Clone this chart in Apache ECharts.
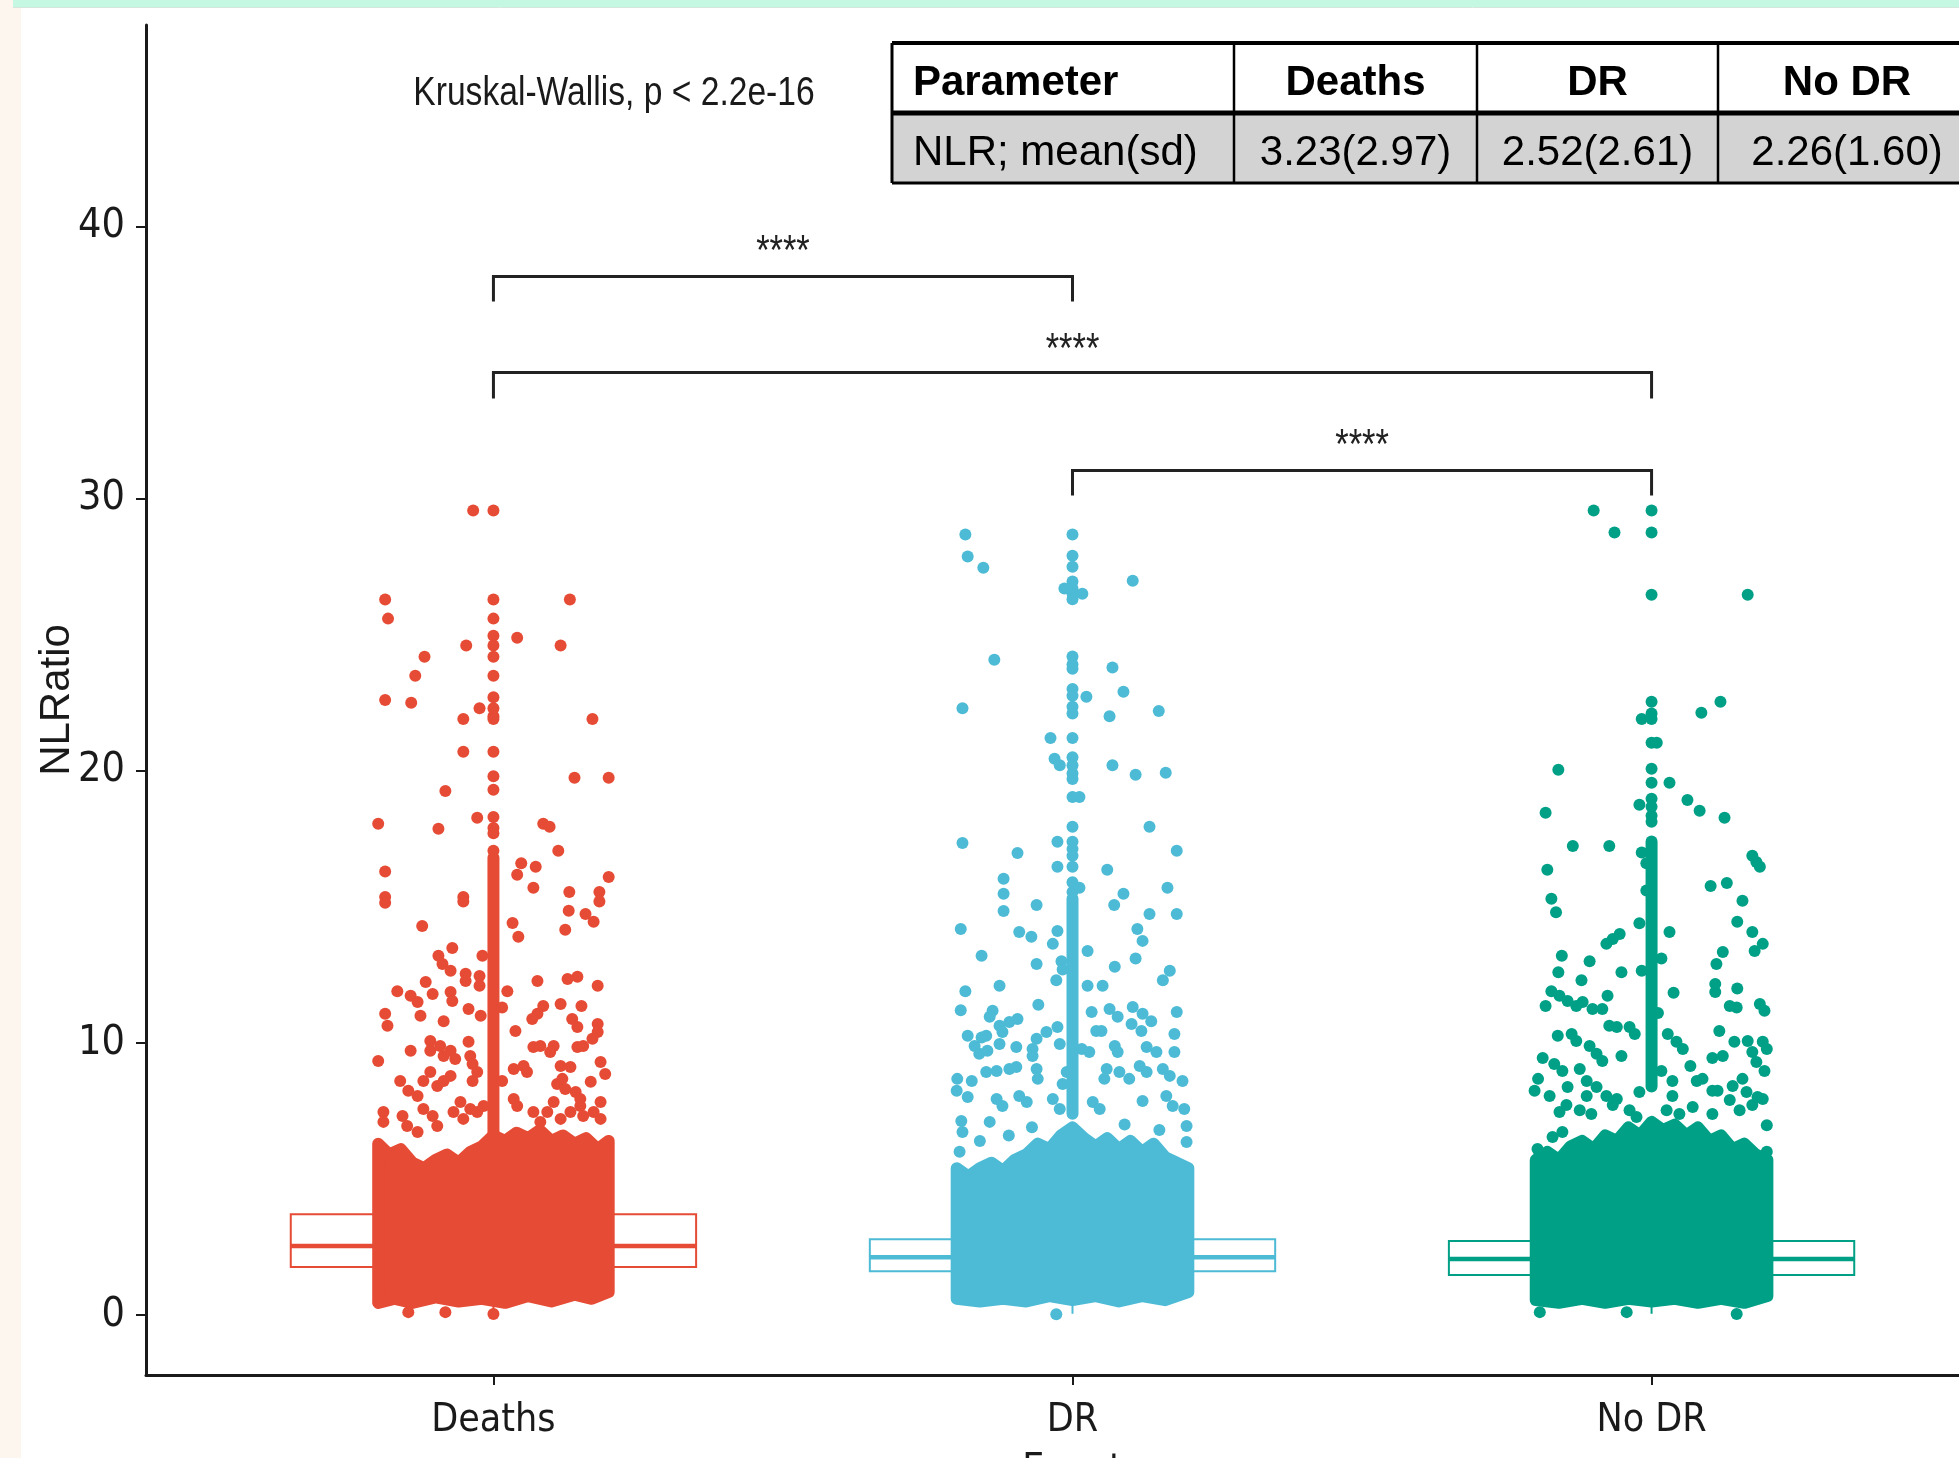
<!DOCTYPE html>
<html>
<head>
<meta charset="utf-8">
<title>NLRatio by Event</title>
<script src="https://cdn.jsdelivr.net/npm/echarts@6/dist/echarts.min.js"></script>
<style>
  html, body { margin: 0; padding: 0; background: #ffffff; }
  #chart { width: 1959px; height: 1458px; }
</style>
</head>
<body>
<div id="chart"></div>
<script>
// ---- data ----
var categories = ['Deaths', 'DR', 'No DR'];
var colors = ['#E64B35', '#4DBBD5', '#00A087'];
var yTicks = [0, 10, 20, 30, 40];

// box statistics per group
var boxLow = [0.05, 0.05, 0.05];
var boxQ1 = [1.77, 1.61, 1.47];
var boxMedian = [2.54, 2.13, 2.06];
var boxQ3 = [3.71, 2.79, 2.72];
var boxHigh = [6.6, 4.5, 4.6];

// boxplot outliers drawn on the centre line
var deathsOutliers = [29.56, 26.29, 25.59, 24.96, 24.6, 24.19, 23.49, 22.7, 22.3, 22.0, 21.9, 20.7, 19.8, 19.3, 18.3, 17.9, 17.7, 17.06];
var drOutliers = [28.68, 27.9, 27.5, 26.95, 26.7, 26.5, 26.3, 24.2, 23.9, 23.75, 23.0, 22.76, 22.35, 22.1, 21.2, 20.5, 20.2, 19.9, 19.7, 19.04, 17.94, 17.39, 17.13, 16.88, 16.47, 15.9, 15.55];
var nodrOutliers = [29.56, 28.75, 26.47, 22.54, 22.1, 21.9, 21.03, 20.07, 19.56, 18.97, 18.68, 18.35, 18.13];
// stretch where the outliers overlap into a solid line [from, to]
var deathsRun = [6.7, 16.8];
var drRun = [7.4, 15.3];
var nodrRun = [8.4, 17.4];

// dense part of the jitter cloud: outline [offset, value], top left->right, bottom right->left
var deathsTop = [[-0.199, 6.3], [-0.18, 5.9], [-0.16, 6.1], [-0.14, 5.6], [-0.12, 5.4], [-0.1, 5.7], [-0.08, 5.9], [-0.06, 5.6], [-0.04, 6.0], [-0.02, 6.2], [0.0, 6.6], [0.02, 6.4], [0.04, 6.7], [0.06, 6.5], [0.08, 6.8], [0.1, 6.4], [0.12, 6.6], [0.14, 6.3], [0.16, 6.5], [0.18, 6.1], [0.199, 6.4]];
var deathsBottom = [[0.199, 0.85], [0.17, 0.6], [0.14, 0.75], [0.1, 0.5], [0.06, 0.7], [0.02, 0.45], [-0.02, 0.6], [-0.06, 0.5], [-0.1, 0.65], [-0.14, 0.45], [-0.17, 0.6], [-0.199, 0.45]];
var drTop = [[-0.2, 5.4], [-0.18, 5.1], [-0.16, 5.4], [-0.14, 5.6], [-0.12, 5.3], [-0.1, 5.7], [-0.08, 5.9], [-0.06, 6.3], [-0.04, 6.1], [-0.02, 6.6], [0.0, 6.9], [0.02, 6.5], [0.04, 6.2], [0.06, 6.5], [0.08, 6.1], [0.1, 6.4], [0.12, 6.0], [0.14, 6.3], [0.16, 5.8], [0.18, 5.6], [0.2, 5.4]];
var drBottom = [[0.2, 0.85], [0.16, 0.55], [0.12, 0.7], [0.08, 0.5], [0.04, 0.7], [0.0, 0.55], [-0.04, 0.7], [-0.08, 0.5], [-0.12, 0.6], [-0.16, 0.5], [-0.2, 0.6]];
var nodrTop = [[-0.2, 5.7], [-0.18, 6.0], [-0.16, 5.7], [-0.14, 6.2], [-0.12, 6.4], [-0.1, 6.1], [-0.08, 6.6], [-0.06, 6.4], [-0.04, 6.9], [-0.02, 6.6], [0.0, 7.1], [0.02, 6.8], [0.04, 7.0], [0.06, 6.6], [0.08, 6.9], [0.1, 6.4], [0.12, 6.6], [0.14, 6.1], [0.16, 6.3], [0.18, 5.9], [0.2, 5.7]];
var nodrBottom = [[0.2, 0.7], [0.16, 0.45], [0.12, 0.6], [0.08, 0.45], [0.04, 0.6], [0.0, 0.5], [-0.04, 0.6], [-0.08, 0.45], [-0.12, 0.6], [-0.16, 0.45], [-0.2, 0.55]];

// single jittered points [offset from category, value]
var deathsJitter = [
  [-0.035, 29.56], [-0.187, 26.29], [-0.182, 25.59], [0.132, 26.29], [0.041, 24.89], [-0.047, 24.6], [0.116, 24.6], [-0.119, 24.19], [-0.135, 23.49],
  [-0.187, 22.6], [-0.142, 22.5], [-0.024, 22.3], [-0.052, 21.9], [0.171, 21.9], [-0.052, 20.7], [0.14, 19.74], [0.199, 19.74], [-0.083, 19.26],
  [-0.199, 18.05], [-0.095, 17.87], [-0.028, 18.27], [0.086, 18.05], [0.097, 17.94], [0.112, 17.06], [0.048, 16.6], [0.041, 16.18], [0.073, 16.47],
  [-0.187, 16.3], [0.199, 16.1], [0.069, 15.7], [0.131, 15.55], [0.183, 15.55], [-0.052, 15.36], [-0.187, 15.36],
  [-0.187, 15.15], [-0.052, 15.2], [0.183, 15.2], [0.13, 14.86], [0.159, 14.74], [0.173, 14.45], [-0.123, 14.3], [0.124, 14.16], [0.033, 14.41],
  [0.043, 13.9], [-0.071, 13.49], [-0.095, 13.2], [-0.088, 12.9], [-0.074, 12.65], [-0.019, 13.2], [-0.048, 12.54], [-0.048, 12.28], [-0.024, 12.46],
  [-0.024, 12.1], [0.024, 11.9], [0.076, 12.28], [0.128, 12.35], [0.145, 12.43], [0.18, 12.1], [-0.166, 11.9], [-0.143, 11.73], [-0.131, 11.5],
  [-0.117, 12.24], [-0.105, 11.8], [-0.074, 11.87], [-0.071, 11.54], [-0.126, 11.0], [-0.187, 11.07], [-0.183, 10.63], [-0.086, 10.8], [-0.043, 11.25],
  [-0.022, 11.0], [0.015, 11.3], [0.086, 11.36], [0.076, 11.07], [0.067, 10.88], [0.116, 11.43], [0.152, 11.36], [0.136, 10.88], [0.145, 10.59],
  [0.18, 10.7], [0.18, 10.4], [0.038, 10.44], [-0.199, 9.34], [-0.143, 9.71], [-0.109, 10.07], [-0.109, 9.71], [-0.092, 9.89], [-0.086, 9.52],
  [-0.074, 9.71], [-0.066, 9.41], [-0.043, 10.04], [-0.04, 9.52], [-0.036, 9.23], [0.069, 9.85], [0.081, 9.89], [0.104, 9.89], [0.098, 9.67],
  [0.145, 9.85], [0.155, 9.89], [0.171, 10.15], [0.035, 9.04], [0.052, 9.15], [0.058, 8.93], [0.116, 9.15], [0.133, 9.12], [0.185, 9.3], [0.193, 8.86],
  [-0.161, 8.6], [-0.147, 8.24], [-0.131, 8.05], [-0.121, 8.6], [-0.109, 8.93], [-0.097, 8.42], [-0.086, 8.6], [-0.074, 8.79], [-0.036, 8.6],
  [-0.028, 8.93], [0.015, 8.6], [0.11, 8.49], [0.119, 8.68], [0.124, 8.31], [0.168, 8.57], [0.142, 8.2], [0.15, 7.94], [0.035, 7.94], [0.041, 7.68],
  [0.185, 7.83], [-0.19, 7.46], [-0.19, 7.1], [-0.157, 7.32], [-0.149, 6.95], [-0.131, 6.73], [-0.121, 7.57], [-0.105, 7.32], [-0.097, 6.95],
  [-0.069, 7.46], [-0.057, 7.83], [-0.052, 7.21], [-0.04, 7.57], [-0.028, 7.46], [-0.017, 7.68], [0.069, 7.46], [0.081, 7.1], [0.093, 7.46],
  [0.104, 7.83], [0.116, 7.21], [0.133, 7.46], [0.15, 7.68], [0.155, 7.32], [0.173, 7.46], [0.185, 7.21],
  [-0.147, 0.11], [-0.083, 0.11], [0.0, 0.04]
];
var drJitter = [
  [-0.185, 28.68], [-0.181, 27.87], [-0.154, 27.46], [0.104, 26.98], [-0.014, 26.7], [0.017, 26.5], [-0.135, 24.08], [0.069, 23.79], [0.024, 22.72],
  [0.088, 22.9], [-0.19, 22.3], [0.064, 22.0], [0.149, 22.2], [-0.038, 21.2], [-0.031, 20.44], [-0.022, 20.2], [0.069, 20.2], [0.109, 19.85],
  [0.161, 19.93], [0.012, 19.04], [0.133, 17.94], [-0.19, 17.35], [-0.026, 17.39], [-0.095, 16.98], [0.18, 17.06], [-0.026, 16.47], [0.06, 16.36],
  [-0.119, 16.03], [-0.119, 15.48], [-0.119, 14.85], [-0.062, 15.07], [0.088, 15.48], [0.072, 15.07], [0.164, 15.7], [0.133, 14.74], [0.18, 14.74],
  [0.012, 15.7],
  [-0.193, 14.19], [-0.092, 14.08], [-0.071, 13.9], [-0.026, 14.11], [-0.034, 13.64], [0.112, 14.19], [0.121, 13.75], [-0.157, 13.2], [-0.062, 12.9],
  [0.026, 13.38], [0.073, 12.8], [0.109, 13.1], [-0.019, 13.0], [-0.017, 12.7], [-0.185, 11.9], [-0.126, 12.1], [-0.028, 12.3], [0.026, 12.1],
  [0.052, 12.1], [0.168, 12.65], [0.156, 12.3], [-0.193, 11.2], [-0.138, 11.18], [-0.143, 10.96], [-0.059, 11.4], [0.033, 11.14], [0.064, 11.25],
  [0.078, 10.96], [0.104, 11.32], [0.121, 11.07], [0.136, 10.8], [0.18, 11.14], [-0.109, 10.77], [-0.095, 10.88], [-0.126, 10.63], [-0.121, 10.4],
  [-0.181, 10.26], [-0.169, 9.89], [-0.161, 9.6], [-0.147, 9.71], [-0.157, 10.2], [-0.149, 10.26], [-0.126, 9.96], [-0.097, 9.85], [-0.062, 10.15],
  [-0.045, 10.4], [-0.069, 9.78], [-0.026, 10.59], [-0.022, 9.96], [0.041, 10.44], [0.05, 10.44], [0.073, 9.89], [0.078, 9.67], [0.102, 10.7],
  [0.119, 10.44], [0.128, 9.85], [0.145, 9.67], [0.176, 10.33], [0.176, 9.67], [0.016, 9.78], [0.029, 9.67], [-0.199, 8.68], [-0.2, 8.24],
  [-0.174, 8.6], [-0.181, 8.01], [-0.149, 8.93], [-0.131, 8.97], [-0.109, 9.04], [-0.097, 9.12], [-0.069, 9.52], [-0.062, 9.04], [-0.06, 8.68],
  [-0.01, 8.93], [-0.017, 8.49], [0.059, 9.04], [0.055, 8.68], [0.081, 8.93], [0.098, 8.68], [0.116, 9.15], [0.128, 8.93], [0.156, 9.04],
  [0.168, 8.79], [0.19, 8.6], [-0.131, 7.94], [-0.121, 7.68], [-0.092, 8.05], [-0.079, 7.83], [-0.034, 7.94], [-0.022, 7.57], [0.035, 7.83],
  [0.047, 7.57], [0.121, 7.87], [0.162, 8.05], [0.173, 7.68], [0.193, 7.57], [-0.192, 7.13], [-0.19, 6.73], [-0.195, 6.0], [-0.143, 7.1],
  [0.197, 6.95], [0.197, 6.36], [-0.16, 6.4], [-0.11, 6.6], [-0.07, 6.9], [0.09, 7.0], [0.15, 6.8],
  [-0.028, 0.03]
];
var nodrJitter = [
  [-0.1, 29.56], [-0.064, 28.75], [0.166, 26.47], [0.119, 22.54], [0.086, 22.13], [-0.161, 20.04], [0.031, 19.56], [0.062, 18.93], [0.083, 18.53],
  [0.126, 18.27], [-0.183, 18.46], [-0.136, 17.24], [-0.073, 17.24], [-0.18, 16.36], [0.174, 16.88], [0.181, 16.65], [0.187, 16.47], [0.102, 15.77],
  [0.13, 15.88], [-0.173, 15.3], [0.157, 15.22], [-0.017, 21.9], [0.009, 21.03], [-0.021, 18.75], [-0.017, 17.0], [-0.009, 16.6], [-0.009, 15.6],
  [-0.165, 14.8], [0.148, 14.45], [0.174, 14.08], [0.192, 13.64], [0.178, 13.38], [0.031, 14.08], [-0.055, 14.0], [-0.067, 13.82], [-0.078, 13.64],
  [-0.155, 13.2], [-0.107, 13.0], [0.123, 13.34], [0.112, 12.9], [-0.161, 12.6], [-0.052, 12.6], [-0.121, 12.3], [0.11, 12.17], [0.11, 11.87],
  [0.148, 12.0], [0.038, 11.84], [-0.173, 11.9], [-0.159, 11.73], [-0.145, 11.54], [-0.13, 11.36], [-0.119, 11.5], [-0.102, 11.25], [-0.085, 11.25],
  [-0.076, 11.73], [-0.183, 11.36], [0.135, 11.36], [0.147, 11.3], [0.187, 11.43], [0.195, 11.18], [-0.073, 10.63], [-0.06, 10.59], [-0.038, 10.59],
  [-0.029, 10.33], [-0.162, 10.26], [-0.138, 10.33], [-0.13, 10.07], [0.117, 10.44], [0.143, 10.04], [0.028, 10.33], [0.043, 10.04], [0.054, 9.78],
  [0.166, 10.07], [0.174, 9.67], [0.192, 10.04], [0.199, 9.78], [-0.107, 9.89], [-0.095, 9.6], [-0.085, 9.34], [-0.052, 9.52], [-0.188, 9.45],
  [0.105, 9.45], [0.123, 9.52], [0.067, 9.15], [0.181, 9.3], [0.195, 8.97], [-0.168, 9.23], [-0.154, 8.97], [-0.124, 9.04], [-0.196, 8.68],
  [-0.202, 8.24], [-0.176, 8.05], [-0.145, 8.38], [-0.112, 8.6], [-0.095, 8.38], [-0.112, 8.05], [-0.078, 8.05], [-0.06, 7.94], [0.036, 8.6],
  [0.036, 8.05], [0.078, 8.6], [0.088, 8.68], [0.105, 8.24], [0.114, 8.24], [0.14, 8.42], [0.157, 8.68], [0.164, 8.2], [0.183, 8.01], [0.192, 7.94],
  [-0.159, 7.46], [-0.147, 7.72], [-0.124, 7.53], [-0.104, 7.39], [-0.067, 7.72], [-0.038, 7.53], [-0.026, 7.28], [0.026, 7.53], [0.048, 7.39],
  [0.071, 7.65], [0.105, 7.39], [0.135, 7.9], [0.152, 7.53], [0.174, 7.72], [0.199, 6.98], [-0.197, 6.1], [-0.171, 6.54], [-0.154, 6.73], [0.199, 6.0],
  [-0.021, 14.4], [-0.017, 12.65], [0.017, 13.1], [0.011, 11.1], [0.017, 8.97], [-0.021, 8.2],
  [-0.193, 0.11], [-0.043, 0.11], [0.147, 0.04]
];

// significance brackets
var bracketFrom = [1, 1, 2];
var bracketTo = [2, 3, 3];
var bracketY = [38.16, 34.63, 31.03];
var bracketTip = [37.24, 33.68, 30.11];
var bracketLabelY = [39.03, 35.46, 31.9];
var bracketLabel = ['****', '****', '****'];

var testTitle = 'Kruskal-Wallis, p < 2.2e-16';
var tableHeader = ['Parameter', 'Deaths', 'DR', 'No DR'];
var tableRow = ['NLR; mean(sd)', '3.23(2.97)', '2.52(2.61)', '2.26(1.60)'];

// ---- chart ----
var condensed = "'Liberation Sans Narrow', 'Arial Narrow', 'DejaVu Sans Condensed', sans-serif";
var plain = "'Liberation Sans', Arial, sans-serif";
var ink = '#1a1a1a';
var narrowScale = 0.82; // plain font squeezed to a narrow face
var boxHalf = 0.35;
var dot = 12;

var outliers = [deathsOutliers, drOutliers, nodrOutliers];
var runs = [deathsRun, drRun, nodrRun];
var coreTop = [deathsTop, drTop, nodrTop];
var coreBottom = [deathsBottom, drBottom, nodrBottom];
var jitters = [deathsJitter, drJitter, nodrJitter];

var chart = echarts.init(document.getElementById('chart'));

var series = [];

// boxes (under the points)
series.push({
  type: 'custom',
  z: 1,
  data: [0, 1, 2].map(function (i) { return [i]; }),
  renderItem: function (params, api) {
    var i = api.value(0);
    var x = i + 1;
    var a = api.coord([x - boxHalf, boxQ3[i]]);
    var b = api.coord([x + boxHalf, boxQ1[i]]);
    var m1 = api.coord([x - boxHalf, boxMedian[i]]);
    var m2 = api.coord([x + boxHalf, boxMedian[i]]);
    var lo = api.coord([x, boxLow[i]]);
    var q1 = api.coord([x, boxQ1[i]]);
    var hi = api.coord([x, boxHigh[i]]);
    var q3 = api.coord([x, boxQ3[i]]);
    var c = colors[i];
    return {
      type: 'group',
      children: [
        { type: 'line', shape: { x1: lo[0], y1: lo[1], x2: q1[0], y2: q1[1] }, style: { stroke: c, lineWidth: 2 } },
        { type: 'line', shape: { x1: q3[0], y1: q3[1], x2: hi[0], y2: hi[1] }, style: { stroke: c, lineWidth: 2 } },
        { type: 'rect', shape: { x: a[0], y: a[1], width: b[0] - a[0], height: b[1] - a[1] }, style: { fill: '#fff', stroke: c, lineWidth: 2 } },
        { type: 'line', shape: { x1: m1[0], y1: m1[1], x2: m2[0], y2: m2[1] }, style: { stroke: c, lineWidth: 4.5 } }
      ]
    };
  }
});

// outlier runs on the centre line
series.push({
  type: 'custom',
  z: 2,
  data: [0, 1, 2].map(function (i) { return [i]; }),
  renderItem: function (params, api) {
    var i = api.value(0);
    var p1 = api.coord([i + 1, runs[i][0]]);
    var p2 = api.coord([i + 1, runs[i][1]]);
    return { type: 'line', shape: { x1: p1[0], y1: p1[1], x2: p2[0], y2: p2[1] }, style: { stroke: colors[i], lineWidth: dot, lineCap: 'round' } };
  }
});

categories.forEach(function (name, i) {
  series.push({
    type: 'scatter',
    name: name + ' outliers',
    z: 2,
    symbolSize: dot,
    itemStyle: { color: colors[i], opacity: 1 },
    data: outliers[i].map(function (v) { return [i + 1, v]; })
  });
});

// dense core of the jitter cloud
series.push({
  type: 'custom',
  z: 3,
  data: [0, 1, 2].map(function (i) { return [i]; }),
  renderItem: function (params, api) {
    var i = api.value(0);
    var pts = coreTop[i].concat(coreBottom[i]).map(function (p) { return api.coord([i + 1 + p[0], p[1]]); });
    return { type: 'polygon', shape: { points: pts }, style: { fill: colors[i], stroke: colors[i], lineWidth: dot, lineJoin: 'round' } };
  }
});

categories.forEach(function (name, i) {
  series.push({
    type: 'scatter',
    name: name,
    z: 4,
    symbolSize: dot,
    itemStyle: { color: colors[i], opacity: 1 },
    data: jitters[i].map(function (p) { return [i + 1 + p[0], p[1]]; })
  });
});

// brackets
series.push({
  type: 'custom',
  z: 5,
  clip: false,
  data: bracketFrom.map(function (f, k) { return [k]; }),
  renderItem: function (params, api) {
    var k = api.value(0);
    var a = api.coord([bracketFrom[k], bracketTip[k]]);
    var b = api.coord([bracketFrom[k], bracketY[k]]);
    var c = api.coord([bracketTo[k], bracketY[k]]);
    var d = api.coord([bracketTo[k], bracketTip[k]]);
    var t = api.coord([(bracketFrom[k] + bracketTo[k]) / 2, bracketLabelY[k]]);
    return {
      type: 'group',
      children: [
        { type: 'polyline', shape: { points: [a, b, c, d] }, style: { stroke: '#222', lineWidth: 3, fill: null } },
        { type: 'text', x: t[0], y: t[1], scaleX: narrowScale, style: { text: bracketLabel[k], fill: '#222', font: '42px ' + plain, align: 'center', verticalAlign: 'middle' } }
      ]
    };
  }
});

// table as graphic elements
var colEdges = [892, 1234, 1477, 1718, 1976];
var rowEdges = [43, 113, 183];
var tableEls = [];
tableEls.push({ type: 'rect', shape: { x: colEdges[0], y: rowEdges[0], width: colEdges[4] - colEdges[0], height: rowEdges[1] - rowEdges[0] }, style: { fill: '#fff' } });
tableEls.push({ type: 'rect', shape: { x: colEdges[0], y: rowEdges[1], width: colEdges[4] - colEdges[0], height: rowEdges[2] - rowEdges[1] }, style: { fill: '#d3d3d3' } });
[[rowEdges[0], 4], [rowEdges[1], 5], [rowEdges[2], 3]].forEach(function (r) {
  tableEls.push({ type: 'line', shape: { x1: colEdges[0], y1: r[0], x2: colEdges[4], y2: r[0] }, style: { stroke: '#000', lineWidth: r[1] } });
});
colEdges.slice(0, 4).forEach(function (x, j) {
  tableEls.push({ type: 'line', shape: { x1: x, y1: rowEdges[0], x2: x, y2: rowEdges[2] }, style: { stroke: '#000', lineWidth: j === 0 ? 3 : 2.5 } });
});
[tableHeader, tableRow].forEach(function (row, r) {
  row.forEach(function (txt, j) {
    var left = j === 0;
    tableEls.push({
      type: 'text',
      x: left ? colEdges[0] + 21 : (colEdges[j] + colEdges[j + 1]) / 2,
      y: (rowEdges[r] + rowEdges[r + 1]) / 2 + 5,
      style: { text: txt, fill: '#000', font: (r === 0 ? 'bold ' : '') + '42px ' + plain, align: left ? 'left' : 'center', verticalAlign: 'middle' }
    });
  });
});

var option = {
  animation: false,
  backgroundColor: 'transparent',
  grid: { left: 146, right: -40, top: 25, bottom: 83, outerBoundsMode: 'none', containLabel: false },
  xAxis: {
    type: 'value',
    min: 0.4,
    max: 3.6,
    splitLine: { show: false },
    axisLine: { onZero: false, lineStyle: { color: ink, width: 3 } },
    axisTick: { customValues: [1, 2, 3], length: 10, lineStyle: { color: ink, width: 2 } },
    axisLabel: {
      customValues: [1, 2, 3],
      formatter: function (v) { return categories[Math.round(v) - 1]; },
      fontFamily: condensed, fontSize: 39, color: ink, margin: 26
    },
    name: 'Event',
    nameLocation: 'middle',
    nameGap: 76,
    nameMoveOverlap: false,
    nameTextStyle: { fontFamily: condensed, fontSize: 39, color: ink }
  },
  yAxis: {
    type: 'value',
    min: -2.2,
    max: 47.4,
    splitLine: { show: false },
    axisLine: { onZero: false, lineStyle: { color: ink, width: 3 } },
    axisTick: { customValues: yTicks, length: 10, lineStyle: { color: ink, width: 2 } },
    axisLabel: { customValues: yTicks, fontFamily: condensed, fontSize: 41, color: ink, margin: 21 },
    name: 'NLRatio',
    nameLocation: 'middle',
    nameRotate: 90,
    nameGap: 68,
    nameMoveOverlap: false,
    nameTextStyle: { fontFamily: plain, fontSize: 42, color: ink }
  },
  graphic: [
    { type: 'rect', z: -10, shape: { x: 0, y: 0, width: 21, height: 1458 }, style: { fill: '#fdf6ee' } },
    { type: 'rect', z: -10, shape: { x: 13, y: 0, width: 1946, height: 7 }, style: { fill: '#c4f8e2' } },
    { type: 'line', z: -10, shape: { x1: 13, y1: 7.5, x2: 1959, y2: 7.5 }, style: { stroke: '#d5e6de', lineWidth: 1 } },
    { type: 'text', x: 614, y: 94, scaleX: narrowScale, style: { text: testTitle, fill: ink, font: '41px ' + plain, align: 'center', verticalAlign: 'middle' } },
    { type: 'group', children: tableEls }
  ],
  series: series
};

chart.setOption(option);
</script>
</body>
</html>
